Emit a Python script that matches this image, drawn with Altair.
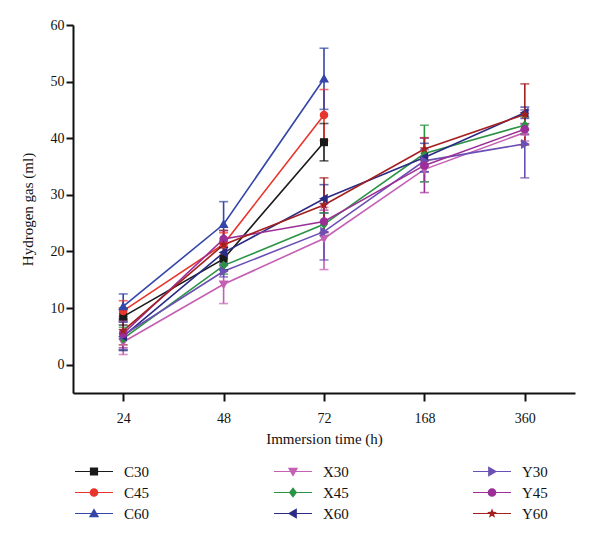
import math
import altair as alt
import pandas as pd

# Immersion times (h) shown as evenly spaced categories
times = ["24", "48", "72", "168", "360"]

# Series names (legend fills column by column, three columns)
series_order = ["C30", "C45", "C60", "X30", "X45", "X60", "Y30", "Y45", "Y60"]
series_colors = ["#1a1a1a", "#e8352b", "#3446a8", "#c45fb4", "#2a9444", "#2b2b86",
                 "#6a4fb4", "#9c2f97", "#a3201f"]
series_markers = ["square", "circle", "triangle-up", "triangle-down", "diamond",
                  "triangle-left", "triangle-right", "circle", "star"]

# Mean hydrogen volume (ml) and error half-widths for each series
c30_mean = [8.5, 18.7, 39.3]
c30_err = [1.5, 2.0, 3.3]
c45_mean = [9.5, 21.3, 44.1]
c45_err = [1.8, 2.0, 4.5]
c60_mean = [10.3, 24.8, 50.5]
c60_err = [2.2, 4.0, 5.4]
x30_mean = [4.0, 14.2, 22.3, 34.5, 41.0]
x30_err = [2.2, 3.4, 5.5, 2.2, 1.5]
x45_mean = [4.6, 17.5, 24.8, 37.3, 42.3]
x45_err = [2.0, 1.5, 2.0, 5.0, 1.5]
x60_mean = [5.0, 19.8, 29.3, 36.6, 44.5]
x60_err = [2.5, 2.0, 2.5, 2.5, 1.0]
y30_mean = [5.2, 16.5, 23.5, 36.0, 39.0]
y30_err = [2.5, 1.0, 5.0, 2.0, 6.0]
y45_mean = [5.5, 22.2, 25.3, 35.2, 41.6]
y45_err = [2.5, 1.5, 2.0, 4.8, 1.0]
y60_mean = [6.0, 21.2, 28.2, 38.1, 44.2]
y60_err = [2.5, 2.5, 4.8, 2.0, 5.4]

series_data = {
    "C30": (c30_mean, c30_err), "C45": (c45_mean, c45_err), "C60": (c60_mean, c60_err),
    "X30": (x30_mean, x30_err), "X45": (x45_mean, x45_err), "X60": (x60_mean, x60_err),
    "Y30": (y30_mean, y30_err), "Y45": (y45_mean, y45_err), "Y60": (y60_mean, y60_err),
}

rows = []
for name in series_order:
    means, errs = series_data[name]
    for i, (m, e) in enumerate(zip(means, errs)):
        rows.append({"series": name, "time": times[i], "t_idx": i,
                     "value": m, "lo": m - e, "hi": m + e})
df = pd.DataFrame(rows)


# --- marker glyphs as SVG paths in the unit square ---------------------------
# every outline is wound clockwise so it fills solidly over the legend line
def marker_path(kind, r, dx=0.0):
    def pt(x, y):
        return f"{dx + x * r:.4f},{y * r:.4f}"
    if kind == "square":
        s = 0.8
        return f"M{pt(-s, -s)}L{pt(s, -s)}L{pt(s, s)}L{pt(-s, s)}Z"
    if kind == "circle":
        c = 0.85
        rr = c * r
        return (f"M{pt(-c, 0)}A{rr:.4f},{rr:.4f} 0 1,1 {pt(c, 0)}"
                f"A{rr:.4f},{rr:.4f} 0 1,1 {pt(-c, 0)}Z")
    if kind == "diamond":
        return f"M{pt(0, -1)}L{pt(0.8, 0)}L{pt(0, 1)}L{pt(-0.8, 0)}Z"
    if kind == "triangle-up":
        return f"M{pt(0, -1)}L{pt(1, 0.75)}L{pt(-1, 0.75)}Z"
    if kind == "triangle-down":
        return f"M{pt(0, 1)}L{pt(-1, -0.75)}L{pt(1, -0.75)}Z"
    if kind == "triangle-left":
        return f"M{pt(-1, 0)}L{pt(0.75, -1)}L{pt(0.75, 1)}Z"
    if kind == "triangle-right":
        return f"M{pt(1, 0)}L{pt(-0.75, 1)}L{pt(-0.75, -1)}Z"
    if kind == "star":
        pts = []
        for k in range(10):
            rad = 1.0 if k % 2 == 0 else 0.42
            ang = -math.pi / 2 + k * math.pi / 5
            pts.append(pt(rad * math.cos(ang), rad * math.sin(ang)))
        return "M" + "L".join(pts) + "Z"
    raise ValueError(kind)


point_paths = [marker_path(k, 1.0) for k in series_markers]
# legend glyph: a short line segment with the marker in its middle
legend_paths = ["M-1,-0.03H1V0.03H-1Z" + marker_path(k, 0.27) for k in series_markers]

color_scale = alt.Scale(domain=series_order, range=series_colors)
x_enc = alt.X("time:O", sort=times, scale=alt.Scale(type="point", padding=0.5),
              axis=alt.Axis(title="Immersion time (h)", labelAngle=0, labelPadding=10,
                            tickSize=8, titlePadding=6))
y_scale = alt.Scale(domain=[-5, 60], nice=False, zero=False)
y_axis = alt.Axis(title="Hydrogen gas (ml)", values=[0, 10, 20, 30, 40, 50, 60],
                  titlePadding=15)

base = alt.Chart(df)
no_legend_color = alt.Color("series:N", scale=color_scale, legend=None)

lines = base.mark_line(strokeWidth=1.6).encode(
    x=x_enc,
    y=alt.Y("value:Q", scale=y_scale, axis=y_axis),
    color=no_legend_color,
    detail="series:N",
    order="t_idx:Q",
)

bars = base.mark_rule(strokeWidth=1.6).encode(
    x=alt.X("time:O", sort=times), y="lo:Q", y2="hi:Q", color=no_legend_color,
)
caps_lo = base.mark_tick(size=9, thickness=1.6).encode(
    x=alt.X("time:O", sort=times), y="lo:Q", color=no_legend_color,
)
caps_hi = base.mark_tick(size=9, thickness=1.6).encode(
    x=alt.X("time:O", sort=times), y="hi:Q", color=no_legend_color,
)

points = base.mark_point(filled=True, opacity=1, size=100, strokeWidth=0).encode(
    x=alt.X("time:O", sort=times), y="value:Q",
    color=no_legend_color,
    shape=alt.Shape("series:N", scale=alt.Scale(domain=series_order, range=point_paths),
                    legend=None),
)

# invisible layer that only carries the legend (line + marker glyphs)
legend_layer = base.mark_point(filled=True, opacity=0, size=1444).encode(
    x=alt.X("time:O", sort=times), y="value:Q",
    color=no_legend_color,
    shape=alt.Shape(
        "series:N",
        scale=alt.Scale(domain=series_order, range=legend_paths),
        legend=alt.Legend(
            title=None, orient="none", legendX=2, legendY=436,
            columns=3, columnPadding=124, rowPadding=0,
            symbolSize=1444, symbolOpacity=1, symbolStrokeWidth=0,
            symbolFillColor=alt.ExprRef("scale('color', datum.value)"),
            clipHeight=21, labelOffset=11,
            labelFont="Liberation Serif", labelFontSize=15, labelColor="#111111",
        ),
    ),
)

chart = (
    alt.layer(lines, bars, caps_lo, caps_hi, points, legend_layer)
    .resolve_scale(shape="independent")
    .properties(width=502, height=368,
                autosize=alt.AutoSizeParams(type="none"),
                padding={"left": 73, "top": 25, "right": 25, "bottom": 148},
                background="white")
    .configure_view(stroke=None)
    .configure_axis(domainColor="#111111", domainWidth=2, tickColor="#111111",
                    tickWidth=2, tickSize=7, grid=False,
                    labelFont="Liberation Serif", labelFontSize=14, labelColor="#111111",
                    titleFont="Liberation Serif", titleFontSize=15,
                    titleFontWeight="normal", titleColor="#111111")
)

chart.save("out.html", embed_options={"renderer": "svg", "actions": False})
